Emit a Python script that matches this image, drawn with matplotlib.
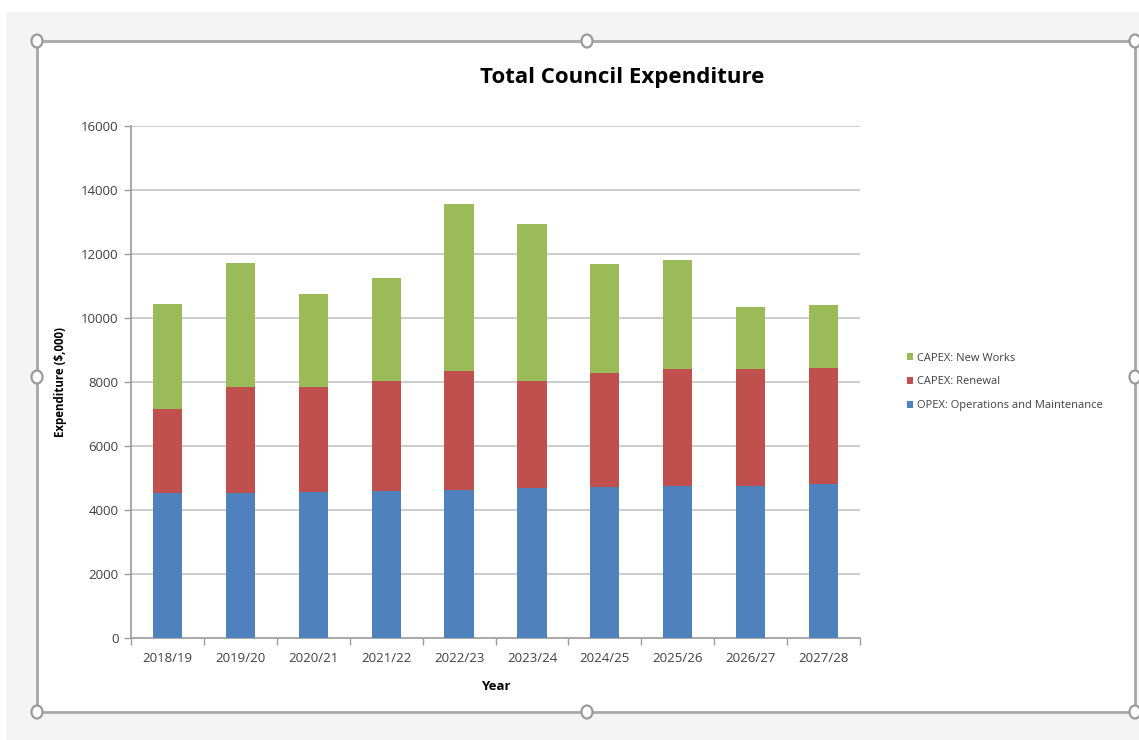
import matplotlib.pyplot as plt
from matplotlib.patches import Rectangle, Ellipse
import numpy as np

# ===== data =====
years = ['2018/19', '2019/20', '2020/21', '2021/22', '2022/23',
         '2023/24', '2024/25', '2025/26', '2026/27', '2027/28']
opex = [4520, 4520, 4560, 4590, 4630, 4680, 4710, 4760, 4760, 4800]
capex_renewal = [2630, 3330, 3290, 3450, 3720, 3350, 3580, 3650, 3650, 3650]
capex_new = [3280, 3880, 2890, 3220, 5210, 4910, 3400, 3390, 1940, 1960]
yticks = [0, 2000, 4000, 6000, 8000, 10000, 12000, 14000, 16000]

C_BLUE = '#4F81BD'
C_RED = '#C0504D'
C_GREEN = '#9BBB59'
GRID = '#c4c4c4'
AXIS = '#9a9a9a'

plt.rcParams['font.family'] = ['Open Sans', 'DejaVu Sans']

W, H = 1139, 740
fig = plt.figure(figsize=(W / 100, H / 100), dpi=100)
fig.patch.set_facecolor('white')


def fx(x):
    return x / W


def fy(y):
    return 1 - y / H


# ===== screenshot frame: gray backdrop, white chart area, handles =====
fig.patches.append(Rectangle((fx(6), fy(740)), fx(1139 - 6), 728 / H,
                             transform=fig.transFigure, facecolor='#f4f4f4',
                             edgecolor='none', zorder=0))
fig.patches.append(Rectangle((fx(37), fy(712)), fx(1135 - 37), (712 - 41) / H,
                             transform=fig.transFigure, facecolor='white',
                             edgecolor='#a8a8a8', linewidth=2, zorder=1))
for hx, hy in [(37, 41), (587, 41), (1135, 41), (37, 377), (1135, 377),
               (37, 712), (587, 712), (1135, 712)]:
    fig.patches.append(Ellipse((fx(hx), fy(hy)), 11 / W, 13 / H,
                               transform=fig.transFigure, facecolor='white',
                               edgecolor='#9a9a9a', linewidth=1.6, zorder=2))

# ===== axes =====
ax = fig.add_axes([fx(131), fy(638), fx(860 - 131), (638 - 126) / H])
ax.set_facecolor('none')
ax.set_zorder(3)

x = np.arange(len(years))
bw = 0.4
ax.bar(x, opex, bw, color=C_BLUE, label='OPEX: Operations and Maintenance', zorder=3)
ax.bar(x, capex_renewal, bw, bottom=opex, color=C_RED, label='CAPEX: Renewal', zorder=3)
bottom2 = [a + b for a, b in zip(opex, capex_renewal)]
ax.bar(x, capex_new, bw, bottom=bottom2, color=C_GREEN, label='CAPEX: New Works', zorder=3)

ax.set_xlim(-0.5, len(years) - 0.5)
ax.set_ylim(0, 16000)
ax.set_yticks(yticks)
ax.set_yticklabels([str(v) for v in yticks], fontsize=9.5, color='#404040')
ax.set_xticks(x)
ax.set_xticklabels(years, fontsize=9.5, color='#404040')
ax.set_xticks(np.arange(-0.5, len(years)), minor=True)
ax.tick_params(axis='x', which='major', length=0, pad=10)
ax.tick_params(axis='x', which='minor', length=5, color=AXIS, width=1)
ax.tick_params(axis='y', length=5, color=AXIS, width=1, pad=4)

for v in yticks[1:]:
    ax.axhline(v, color=GRID, linewidth=1.2, zorder=1)
for s in ['top', 'right']:
    ax.spines[s].set_visible(False)
ax.spines['left'].set_color(AXIS)
ax.spines['bottom'].set_color(AXIS)
ax.spines['left'].set_linewidth(1.2)
ax.spines['bottom'].set_linewidth(1.2)

ax.set_ylabel('Expenditure ($,000)', fontsize=8.3, fontweight='bold', labelpad=10)
ax.set_xlabel('Year', fontsize=9.5, fontweight='bold', labelpad=11)

fig.text(fx(622), fy(77), 'Total Council Expenditure', fontsize=16,
         fontweight='bold', ha='center', va='center', zorder=4)

# legend, top entry = top segment
h, l = ax.get_legend_handles_labels()
leg = fig.legend(h[::-1], l[::-1], loc='center left',
                 bbox_to_anchor=(fx(901), fy(382)), frameon=False,
                 fontsize=8, handlelength=0.6, handleheight=0.6,
                 handletextpad=0.3, labelspacing=1.15, borderpad=0)
for t in leg.get_texts():
    t.set_color('#404040')

fig.savefig('out.png', dpi=100)
